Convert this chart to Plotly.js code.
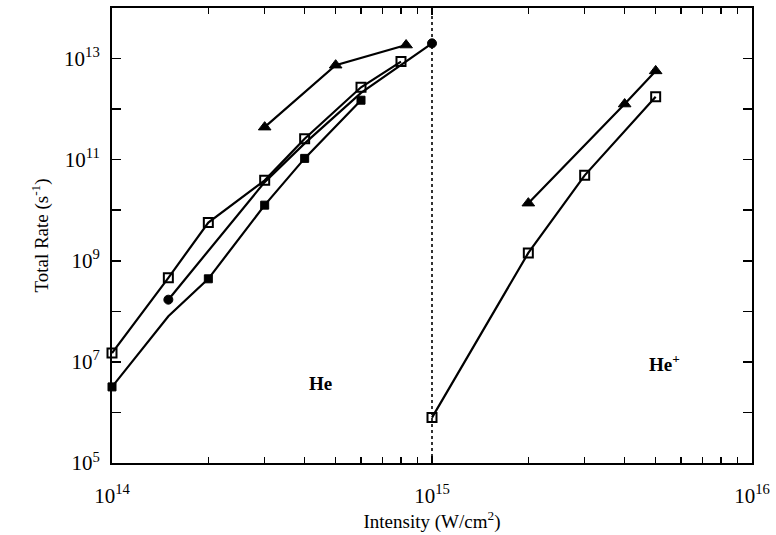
<!DOCTYPE html>
<html>
<head>
<meta charset="utf-8">
<script src="https://cdn.plot.ly/plotly-3.0.1.min.js"></script>
<style>html,body{margin:0;padding:0;background:#fff}#chart{width:776px;height:535px}</style>
</head>
<body>
<div id="chart"></div>
<script>
// He: open squares
const heOpenX = [1e14, 1.5e14, 2e14, 3e14, 4e14, 6e14, 8e14];
const heOpenY = [1.5e7, 4.6e8, 5.7e9, 3.9e10, 2.6e11, 2.7e12, 8.7e12];
// He: filled squares (1.5e14 point has no marker)
const heFillX = [1e14, 1.5e14, 2e14, 3e14, 4e14, 6e14];
const heFillY = [3.2e6, 8.0e7, 4.4e8, 1.26e10, 1.06e11, 1.5e12];
const heFillMarked = [true, false, true, true, true, true];
// He: circles (markers only at the ends)
const heCircX = [1.5e14, 3e14, 4e14, 6e14, 1e15];
const heCircY = [1.7e8, 3.6e10, 2.1e11, 2.1e12, 2.0e13];
const heCircMarked = [true, false, false, false, true];
// He: triangles
const heTriX = [3e14, 5e14, 8.3e14];
const heTriY = [4.4e11, 7.4e12, 1.85e13];
// He+: open squares
const hepOpenX = [1e15, 2e15, 3e15, 5e15];
const hepOpenY = [7.9e5, 1.43e9, 4.9e10, 1.75e12];
// He+: triangles
const hepTriX = [2e15, 4e15, 5e15];
const hepTriY = [1.38e10, 1.26e12, 5.7e12];
// dividing line
const divX = [1e15, 1e15];
const divY = [1e5, 1e14];

// tick positions and labels
const xMajorVals = [1e14, 1e15, 1e16];
const xMajorText = ['10<sup>14</sup>', '10<sup>15</sup>', '10<sup>16</sup>'];
const xMinorVals = [];
[1e14, 1e15].forEach(function (d) { for (let k = 2; k <= 9; k++) xMinorVals.push(k * d); });
const yMajorVals = [1e5, 1e7, 1e9, 1e11, 1e13];
const yMajorText = ['10<sup>5</sup>', '10<sup>7</sup>', '10<sup>9</sup>', '10<sup>11</sup>', '10<sup>13</sup>'];
const yMinorVals = [1e6, 1e8, 1e10, 1e12, 1e14];

const LINE = {color: '#000', width: 2.2};
const openSq = {symbol: 'square-open', size: 9, color: '#000', opacity: 1, line: {width: 2, color: '#000'}};
const traces = [
  {x: divX, y: divY, mode: 'lines', line: {color: '#000', width: 1.6, dash: 'dot'}, hoverinfo: 'skip'},
  {x: heFillX, y: heFillY, mode: 'lines+markers', line: LINE,
   marker: {symbol: 'square', color: '#000', opacity: 1, line: {width: 1, color: '#000'},
            size: heFillMarked.map(m => m ? 8 : 0)}},
  {x: heCircX, y: heCircY, mode: 'lines+markers', line: LINE,
   marker: {symbol: 'circle', color: '#000', opacity: 1, line: {width: 1, color: '#000'},
            size: heCircMarked.map(m => m ? 9 : 0)}},
  {x: heOpenX, y: heOpenY, mode: 'lines+markers', line: LINE, marker: openSq},
  {x: heTriX, y: heTriY, mode: 'lines+markers', line: LINE,
   marker: {symbol: 'triangle-up', color: '#000', opacity: 1, size: 11, line: {width: 1, color: '#000'}}},
  {x: hepOpenX, y: hepOpenY, mode: 'lines+markers', line: LINE, marker: openSq},
  {x: hepTriX, y: hepTriY, mode: 'lines+markers', line: LINE,
   marker: {symbol: 'triangle-up', color: '#000', opacity: 1, size: 11, line: {width: 1, color: '#000'}}}
];
traces.forEach(t => { t.cliponaxis = false; t.showlegend = false; });

const FONT = 'Liberation Serif, Times New Roman, serif';
const layout = {
  width: 776, height: 535,
  margin: {l: 112, r: 24, t: 8, b: 72},
  paper_bgcolor: '#fff', plot_bgcolor: '#fff',
  font: {family: FONT, color: '#000', size: 19},
  showlegend: false,
  xaxis: {
    type: 'log', range: [14, 16],
    tickmode: 'array', tickvals: xMajorVals, ticktext: xMajorText,
    ticks: 'inside', ticklen: 7, tickwidth: 1.5, tickcolor: '#000',
    minor: {tickmode: 'array', tickvals: xMinorVals, ticks: 'inside', ticklen: 6, tickwidth: 1.5, tickcolor: '#000', showgrid: false},
    showline: true, linecolor: '#000', linewidth: 2, mirror: 'allticks',
    showgrid: false, zeroline: false,
    tickfont: {family: FONT, size: 21, color: '#000'},
    ticklabelstandoff: 13,
    title: {text: 'Intensity (W/cm<sup>2</sup>)', font: {family: FONT, size: 19, color: '#000'}, standoff: 2}
  },
  yaxis: {
    type: 'log', range: [5, 14],
    tickmode: 'array', tickvals: yMajorVals, ticktext: yMajorText,
    ticks: 'inside', ticklen: 9, tickwidth: 1.5, tickcolor: '#000',
    minor: {tickmode: 'array', tickvals: yMinorVals, ticks: 'inside', ticklen: 9, tickwidth: 1.5, tickcolor: '#000', showgrid: false},
    showline: true, linecolor: '#000', linewidth: 2, mirror: 'allticks',
    showgrid: false, zeroline: false,
    tickfont: {family: FONT, size: 21, color: '#000'},
    ticklabelstandoff: 6,
    title: {text: 'Total Rate (s<sup>-1</sup>)', font: {family: FONT, size: 19, color: '#000'}, standoff: 10}
  },
  annotations: [
    {x: 14.651, y: 6.574, xref: 'x', yref: 'y', text: '<b>He</b>', showarrow: false,
     font: {family: FONT, size: 19, color: '#000'}},
    {x: 15.728, y: 6.97, xref: 'x', yref: 'y', text: '<b>He<sup>+</sup></b>', showarrow: false,
     font: {family: FONT, size: 19, color: '#000'}}
  ]
};
Plotly.newPlot('chart', traces, layout, {staticPlot: true, displayModeBar: false});
</script>
</body>
</html>
